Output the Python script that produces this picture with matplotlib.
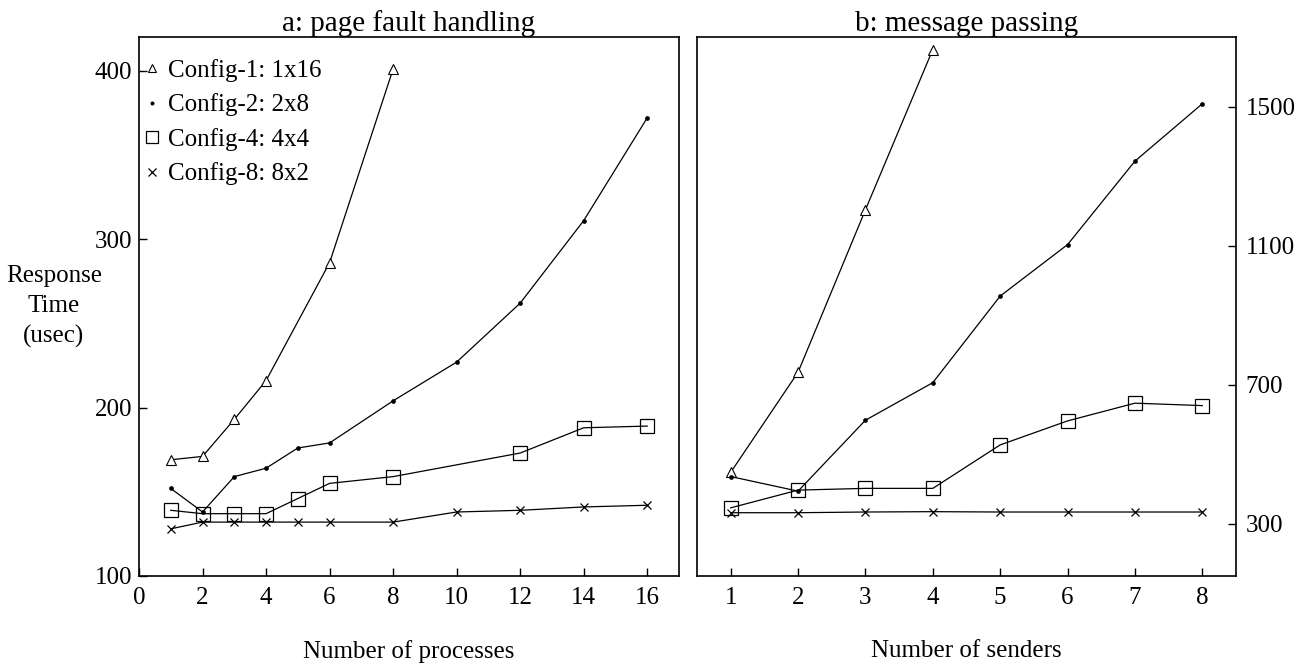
import numpy as np
import matplotlib
matplotlib.use("Agg")
import matplotlib.pyplot as plt

plt.rcParams['font.family'] = ['Liberation Serif', 'DejaVu Serif']

# a: page fault handling  (x = number of processes)
pf_c1_x = [1, 2, 3, 4, 6, 8]
pf_c1 = [169, 171, 193, 216, 286, 401]
pf_c2_x = [1, 2, 3, 4, 5, 6, 8, 10, 12, 14, 16]
pf_c2 = [152, 138, 159, 164, 176, 179, 204, 227, 262, 311, 372]
pf_c4_x = [1, 2, 3, 4, 5, 6, 8, 12, 14, 16]
pf_c4 = [139, 137, 137, 137, 146, 155, 159, 173, 188, 189]
pf_c8_x = [1, 2, 3, 4, 5, 6, 8, 10, 12, 14, 16]
pf_c8 = [128, 132, 132, 132, 132, 132, 132, 138, 139, 141, 142]

# b: message passing  (x = number of senders)
mp_c1_x = [1, 2, 3, 4]
mp_c1 = [448, 736, 1203, 1664]
mp_x = [1, 2, 3, 4, 5, 6, 7, 8]
mp_c2 = [436, 394, 598, 706, 955, 1103, 1343, 1508]
mp_c4 = [346, 397, 402, 402, 527, 596, 647, 640]
mp_c8 = [332, 332, 334, 335, 334, 334, 334, 334]

labels = ["Config-1: 1x16", "Config-2: 2x8", "Config-4: 4x4", "Config-8: 8x2"]
pf_xticks = [0, 2, 4, 6, 8, 10, 12, 14, 16]
pf_yticks = [100, 200, 300, 400]
mp_yticks = [300, 700, 1100, 1500]

FS = 18
# marker style per config
styles = [
    dict(marker='^', markersize=7.5, markerfacecolor='white', markeredgewidth=0.8),
    dict(marker='o', markersize=3.4, markerfacecolor='black', markeredgewidth=0),
    dict(marker='s', markersize=9.5, markerfacecolor='none', markeredgewidth=0.9),
    dict(marker='x', markersize=6, markeredgewidth=0.9),
]

fig = plt.figure(figsize=(13.02, 6.67), dpi=100)
ax1 = fig.add_axes([139/1302, 1-576/667, 540/1302, 539/667])
ax2 = fig.add_axes([697/1302, 1-576/667, 539/1302, 539/667])

for (xs, ys), st, lab in zip([(pf_c1_x, pf_c1), (pf_c2_x, pf_c2), (pf_c4_x, pf_c4), (pf_c8_x, pf_c8)], styles, labels):
    ax1.plot(xs, ys, color='black', lw=0.9, markeredgecolor='black', label=lab, **st)

for (xs, ys), st in zip([(mp_c1_x, mp_c1), (mp_x, mp_c2), (mp_x, mp_c4), (mp_x, mp_c8)], styles):
    ax2.plot(xs, ys, color='black', lw=0.9, markeredgecolor='black', **st)

ax1.set_xlim(0, 17)
ax1.set_ylim(100, 420)
ax1.set_xticks(pf_xticks)
ax1.set_yticks(pf_yticks)
ax1.tick_params(direction='in', length=6, width=1, labelsize=FS, top=False, right=False)
ax1.tick_params(axis='x', pad=8)
ax1.tick_params(axis='y', pad=5)
ax1.set_title("a: page fault handling", fontsize=21, pad=3)
ax1.set_xlabel("Number of processes", fontsize=FS, labelpad=22)
ax1.set_ylabel("Response\nTime\n(usec)", fontsize=FS, rotation=0, ha='center', va='center',
               linespacing=1.45)
ax1.yaxis.set_label_coords(-85/540, 0.5)

ax2.set_xlim(0.5, 8.5)
ax2.set_ylim(150, 1700)
ax2.set_xticks(mp_x)
ax2.set_yticks(mp_yticks)
ax2.yaxis.tick_right()
ax2.tick_params(direction='in', length=6, width=1, labelsize=FS, top=False, left=False)
ax2.tick_params(axis='x', pad=8)
ax2.tick_params(axis='y', pad=7)
ax2.set_title("b: message passing", fontsize=21, pad=3)
ax2.set_xlabel("Number of senders", fontsize=FS, labelpad=22)

for ax in (ax1, ax2):
    for sp in ax.spines.values():
        sp.set_linewidth(1.2)

leg = ax1.legend(loc='upper left', bbox_to_anchor=(7/540, 1 - 22/539), frameon=False,
                 fontsize=FS, handlelength=0.45, handletextpad=0.45, labelspacing=0.46,
                 borderaxespad=0, borderpad=0, markerscale=0.85)
for h in leg.legend_handles:
    h.set_linestyle('none')

fig.savefig("out.png", dpi=100)
